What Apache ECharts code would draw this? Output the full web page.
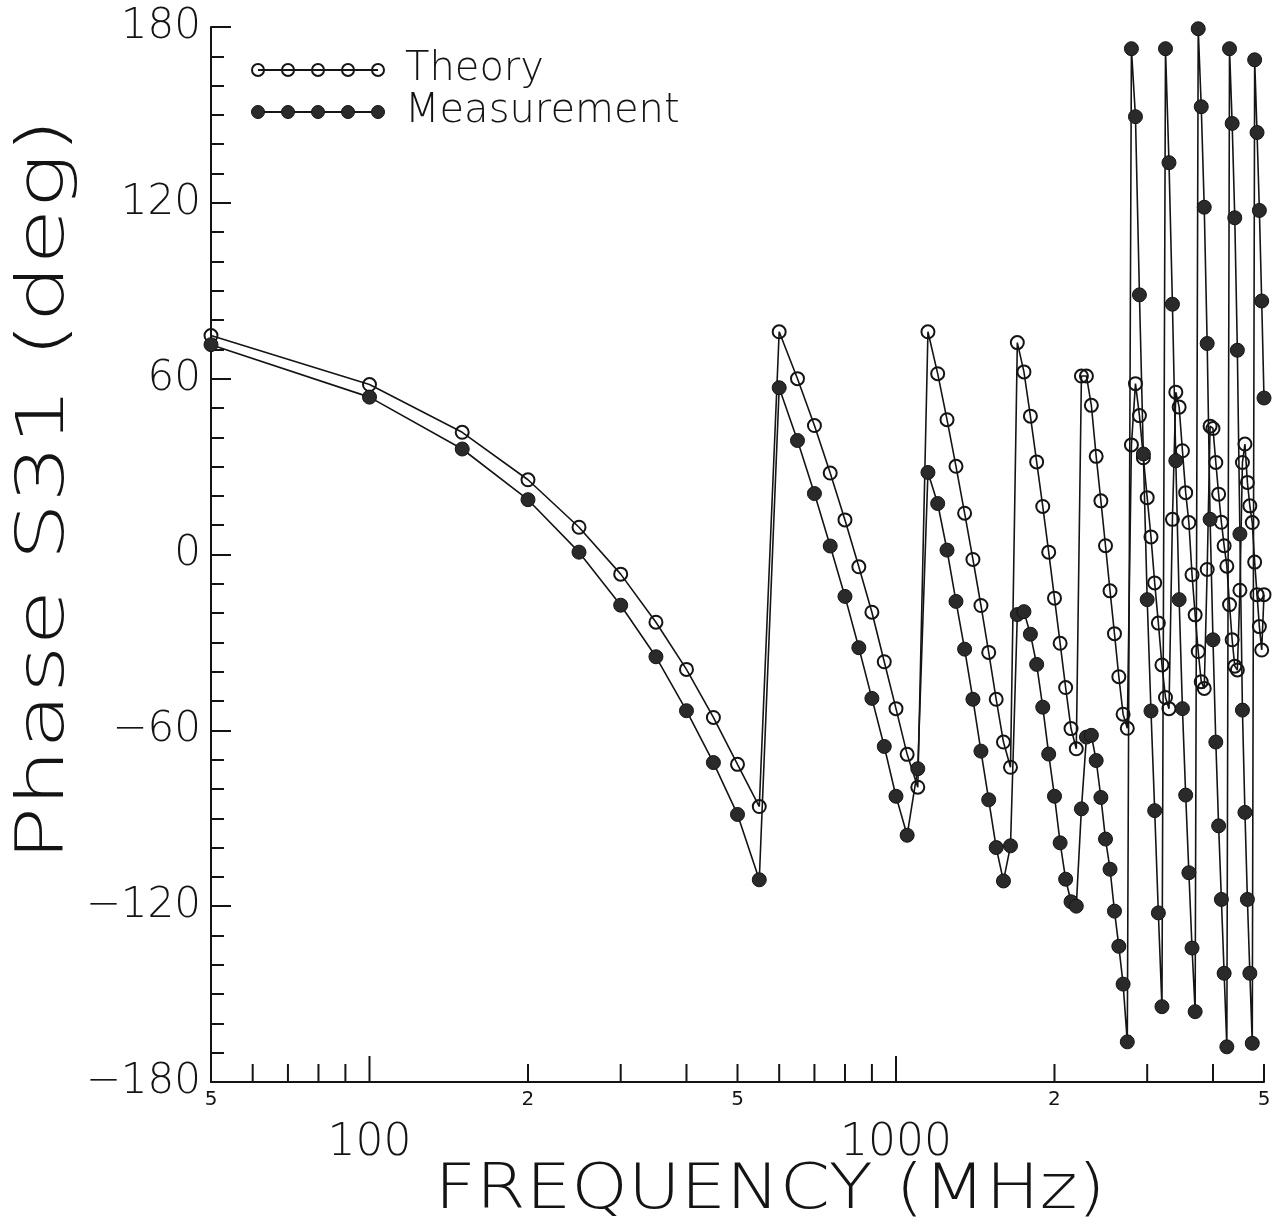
<!DOCTYPE html>
<html><head><meta charset="utf-8">
<script src="https://cdn.jsdelivr.net/npm/echarts@6/dist/echarts.min.js"></script>
<style>html,body{margin:0;padding:0;background:#fff}#c{width:1273px;height:1230px}</style>
</head><body><div id="c"></div>
<script>
// ---- data ----
const freqMHz = [50,100,150,200,250,300,350,400,450,500,550,600,650,700,750,800,850,900,950,1000,
  1050,1100,1150,1200,1250,1300,1350,1400,1450,1500,1550,1600,1650,1700,1750,1800,1850,1900,1950,2000,
  2050,2100,2150,2200,2250,2300,2350,2400,2450,2500,2550,2600,2650,2700,2750,2800,2850,2900,2950,3000,
  3050,3100,3150,3200,3250,3300,3350,3400,3450,3500,3550,3600,3650,3700,3750,3800,3850,3900,3950,4000,
  4050,4100,4150,4200,4250,4300,4350,4400,4450,4500,4550,4600,4650,4700,4750,4800,4850,4900,4950,5000];
const theory = [74.7,58.0,41.7,25.5,9.3,-6.7,-23.1,-39.2,-55.6,-71.6,-86.0,76.0,60.0,44.0,27.8,11.8,-4.2,-19.7,-36.6,-52.6,
  -68.2,-79.4,76.0,61.7,46.0,30.1,14.1,-1.7,-17.4,-33.4,-49.4,-64.0,-72.6,72.3,62.3,47.2,31.6,16.4,0.8,-14.9,
  -30.3,-45.4,-59.4,-66.3,60.9,60.9,50.9,33.5,18.3,3.0,-12.4,-27.0,-41.7,-54.5,-59.3,37.4,58.3,47.4,33.0,19.4,
  6.0,-9.7,-23.4,-37.7,-48.8,-52.6,12.0,55.4,50.3,35.4,21.1,10.9,-6.9,-20.6,-33.1,-43.4,-45.7,-5.1,43.8,43.0,
  31.4,20.6,11.0,3.0,-4.0,-17.1,-29.1,-38.1,-39.4,-12.2,31.4,37.7,24.6,16.6,10.9,-2.6,-13.7,-24.6,-32.6,-13.7];
const measurement = [71.6,53.7,36.0,18.7,0.8,-17.3,-34.9,-53.3,-71.0,-88.7,-111.0,56.9,38.9,20.8,2.9,-14.3,-31.8,-49.1,-65.5,-82.5,
  -95.8,-73.1,28.0,17.4,1.5,-16.0,-32.3,-49.4,-67.1,-83.7,-100.0,-111.4,-99.4,-20.5,-19.5,-27.2,-37.5,-52.1,-68.1,-82.5,
  -98.4,-110.8,-118.5,-120.0,-86.8,-62.3,-61.7,-70.3,-82.9,-97.1,-107.4,-121.7,-133.7,-146.6,-166.3,172.6,149.4,88.6,34.3,-15.4,
  -53.4,-87.4,-122.3,-154.3,172.6,133.7,85.4,32.0,-15.4,-52.6,-82.1,-108.6,-134.3,-156.0,179.4,152.8,118.5,72.0,12.0,-29.1,
  -64.0,-92.6,-117.7,-142.9,-168.0,172.6,147.1,114.9,69.7,7.0,-53.1,-88.0,-117.7,-142.9,-166.8,168.8,144.0,117.4,86.5,53.4];

// axis ticks / labels
const xMinorTicks = [60,70,80,90,200,300,400,500,600,700,800,900,2000,3000,4000,5000];
const xMajorTicks = [100,1000];
const xSmallLabelValues = [50,200,500,2000,5000];
const xSmallLabelTexts = ['5','2','5','2','5'];
const xDecadeLabelValues = [100,1000];
const xDecadeLabelTexts = ['100','1000'];
const yMin = -180, yMax = 180, yStep = 60;

const FONT = '"DejaVu Sans", sans-serif';
const INK = '#141414';

const chart = echarts.init(document.getElementById('c'), null, {renderer:'canvas'});

function tickSeries(values, len) {
  return {
    type:'custom', silent:true, clip:false, z:5,
    data: values.map(v => [v, yMin]),
    renderItem: (params, api) => {
      const p = api.coord([api.value(0), yMin]);
      return {type:'line', shape:{x1:p[0], y1:p[1], x2:p[0], y2:p[1]-len},
        style:{stroke:INK, lineWidth:2}};
    }
  };
}
function labelSeries(values, texts, size, dy, weight) {
  return {
    type:'custom', silent:true, clip:false, z:5,
    data: values.map(v => [v, yMin]),
    renderItem: (params, api) => {
      const p = api.coord([api.value(0), yMin]);
      return {type:'text', x:p[0], y:p[1]+dy,
        style:{text:texts[params.dataIndex], fontSize:size, fontFamily:FONT, fontWeight:weight,
          fill:INK, align:'center', verticalAlign:'middle'}};
    }
  };
}

const option = {
  animation:false,
  backgroundColor:'#ffffff',
  grid:{left:211, right:9, top:27, bottom:148, containLabel:false},
  xAxis:{type:'log', logBase:10, min:50, max:5000,
    axisLine:{show:true, onZero:false, lineStyle:{color:INK, width:2}},
    axisTick:{show:false}, axisLabel:{show:false}, splitLine:{show:false}, minorTick:{show:false}},
  yAxis:{type:'value', min:yMin, max:yMax, interval:yStep,
    axisLine:{show:true, onZero:false, lineStyle:{color:INK, width:2}},
    axisTick:{show:true, inside:true, length:20, lineStyle:{color:INK, width:2}},
    minorTick:{show:true, splitNumber:6, length:13, lineStyle:{color:INK, width:2}},
    splitLine:{show:false}, minorSplitLine:{show:false},
    axisLabel:{fontSize:42, fontFamily:FONT, fontWeight:200, color:INK, margin:10,
      formatter: v => String(v).replace('-', '\u2212')}},
  graphic:[
    {type:'text', x:46, y:490, rotation:Math.PI/2, scaleX:1.38, scaleY:1,
      style:{text:'Phase S31 (deg)', fontSize:66, fontFamily:FONT, fontWeight:200, fill:INK,
        align:'center', verticalAlign:'middle'}},
    {type:'text', x:770, y:1192, scaleX:1.16, scaleY:1,
      style:{text:'FREQUENCY (MHz)', fontSize:62, fontFamily:FONT, fontWeight:200, fill:INK,
        align:'center', verticalAlign:'middle'}},
    // legend
    {type:'line', shape:{x1:258, y1:70, x2:378, y2:70}, style:{stroke:INK, lineWidth:2}},
    ...[258,288,318,348,378].map(x => ({type:'circle', shape:{cx:x, cy:70, r:6}, style:{fill:'rgba(255,255,255,0)', stroke:INK, lineWidth:2}})),
    {type:'text', x:405, y:70, style:{text:'Theory', fontSize:40, fontFamily:FONT, fontWeight:200, fill:INK, align:'left', verticalAlign:'middle'}},
    {type:'line', shape:{x1:258, y1:112, x2:378, y2:112}, style:{stroke:INK, lineWidth:2}},
    ...[258,288,318,348,378].map(x => ({type:'circle', shape:{cx:x, cy:112, r:6.5}, style:{fill:'#2a2a2a', stroke:INK, lineWidth:1}})),
    {type:'text', x:405, y:112, style:{text:'Measurement', fontSize:40, fontFamily:FONT, fontWeight:200, fill:INK, align:'left', verticalAlign:'middle'}}
  ],
  series:[
    {name:'Theory', type:'line', data: freqMHz.map((f,i)=>[f, theory[i]]),
      symbol:'circle', symbolSize:13, showSymbol:true, z:3,
      lineStyle:{color:INK, width:1.6},
      itemStyle:{color:'rgba(255,255,255,0)', borderColor:INK, borderWidth:2}},
    {name:'Measurement', type:'line', data: freqMHz.map((f,i)=>[f, measurement[i]]),
      symbol:'circle', symbolSize:14, showSymbol:true, z:4,
      lineStyle:{color:INK, width:1.6},
      itemStyle:{color:'#2a2a2a', borderColor:INK, borderWidth:1}},
    tickSeries(xMinorTicks, 18),
    tickSeries(xMajorTicks, 26),
    labelSeries(xSmallLabelValues, xSmallLabelTexts, 20, 18, 'normal'),
    labelSeries(xDecadeLabelValues, xDecadeLabelTexts, 44, 62, 200)
  ]
};
chart.setOption(option);
</script>
</body></html>
